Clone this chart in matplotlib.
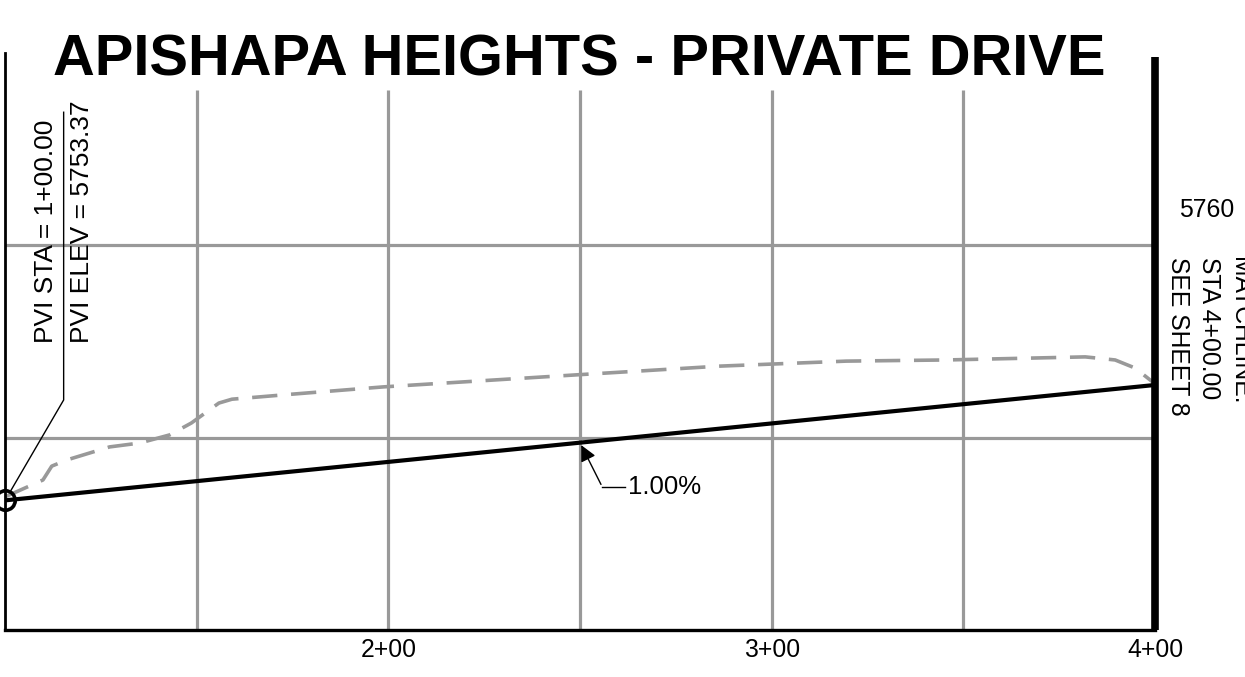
import matplotlib.pyplot as plt

plt.rcParams['font.family'] = ['Liberation Sans', 'DejaVu Sans']

# profile data (station in ft, elevation in ft)
pvi_sta = 100.0
pvi_elev = 5753.37
grade = 1.00  # percent
end_sta = 400.0

# existing ground (dashed gray)
ground_sta = [100.0, 109.9, 112.2, 116.1, 127.3, 135.1, 142.9, 148.6, 155.8, 159.2,
              174.8, 198.7, 248.6, 286.5, 319.5, 345.5, 381.8, 389.6, 394.8, 400.0]
ground_elev = [5753.46, 5753.90, 5754.26, 5754.42, 5754.76, 5754.86, 5755.07, 5755.38,
               5755.90, 5756.00, 5756.13, 5756.32, 5756.63, 5756.86, 5756.99, 5757.02,
               5757.10, 5757.02, 5756.81, 5756.40]

grid_sta = [150, 200, 250, 300, 350]
grid_elev = [5755, 5760]
tick_sta = [200, 300, 400]
tick_labels = ["2+00", "3+00", "4+00"]

fig = plt.figure(figsize=(12.45, 6.77), dpi=100)
ax = fig.add_axes([5 / 1245, 47 / 677, 1150 / 1245, 577 / 677])
ax.set_xlim(100, 400)
ax.set_ylim(5750, 5765)
ax.axis('off')

gray = '#999999'
# grid
ax.vlines(grid_sta, 5750, 5764.05, color=gray, lw=2.3, zorder=1)
ax.hlines(grid_elev, 100, 400, color=gray, lw=2.3, zorder=1)

# frame: thin left, bottom, thick right (matchline)
ax.plot([100, 100], [5750, 5765], color='black', lw=2.0, zorder=3, clip_on=False)
ax.plot([100, 400], [5750, 5750], color='black', lw=2.4, zorder=3, clip_on=False)
ax.plot([400, 400], [5750, 5764.9], color='black', lw=5.5, zorder=3,
        solid_capstyle='butt', clip_on=False)

# existing ground
ax.plot(ground_sta, ground_elev, color=gray, lw=2.6, ls=(0, (7, 3.8)), zorder=2)

# proposed grade
end_elev = pvi_elev + grade / 100 * (end_sta - pvi_sta)
ax.plot([pvi_sta, end_sta], [pvi_elev, end_elev], color='black', lw=3, zorder=4)
ax.plot([pvi_sta], [pvi_elev], 'o', ms=14, mfc='none', mec='black', mew=2.6, zorder=5, clip_on=False)

# PVI label
ax.plot([115.3, 115.3, pvi_sta + 1.5], [5763.46, 5755.98, pvi_elev + 0.25], color='black', lw=1, zorder=3)
ax.text(110.6, 5757.45, "PVI STA = 1+00.00", rotation=90, ha='center', va='bottom', fontsize=19)
ax.text(120.0, 5757.45, "PVI ELEV = 5753.37", rotation=90, ha='center', va='bottom', fontsize=19)

# grade label
mid_sta = 250
mid_elev = pvi_elev + grade / 100 * (mid_sta - pvi_sta)
ax.annotate("", xy=(mid_sta, mid_elev), xytext=(255.8, 5753.72),
            arrowprops=dict(arrowstyle='-|>', color='black', lw=1, mutation_scale=24))
ax.plot([255.8, 261.8], [5753.72, 5753.72], color='black', lw=1)
ax.text(262.6, 5753.72, "1.00%", ha='left', va='center', fontsize=18.5)

# ticks
for s, lab in zip(tick_sta, tick_labels):
    ax.text(s, 5749.48, lab, ha='center', va='center', fontsize=17.8)
ax.text(406.3, 5760.92, "5760", ha='left', va='center', fontsize=17.8, clip_on=False)

# matchline
ax.text(406.0, 5759.7, "SEE SHEET 8", rotation=270, ha='center', va='top', fontsize=17.8)
ax.text(414.1, 5759.7, "STA 4+00.00", rotation=270, ha='center', va='top', fontsize=17.8)
ax.text(422.2, 5759.7, "MATCHLINE:", rotation=270, ha='center', va='top', fontsize=17.8)

# title
fig.text(579 / 1245, 1 - 75 / 677, "APISHAPA HEIGHTS - PRIVATE DRIVE",
         ha='center', va='baseline', fontsize=41.7, fontweight='bold')

fig.savefig("out.png", dpi=100)
